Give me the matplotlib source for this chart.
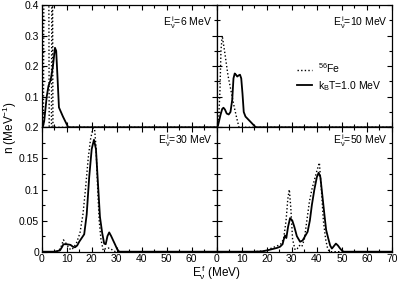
import matplotlib
matplotlib.use("Agg")
import matplotlib.pyplot as plt
from matplotlib.ticker import MultipleLocator

plt.rcParams['font.family'] = ['Liberation Sans', 'DejaVu Sans']
plt.rcParams['mathtext.fontset'] = 'custom'
plt.rcParams['mathtext.rm'] = 'Liberation Sans'
plt.rcParams['mathtext.it'] = 'Liberation Sans:italic'
plt.rcParams['mathtext.sf'] = 'Liberation Sans'

# ---- data (E in MeV, n in MeV^-1) ----
ev6_fe_E = [0, 0.7, 0.9, 2.8, 3.0, 3.9, 4.1, 4.3, 4.5, 70]
ev6_fe_n = [0, 0.0, 0.6, 0.6, 0.0, 0.0, 0.6, 0.6, 0.0, 0]
ev6_kt_E = [0, 0.4, 1.0, 2.0, 2.7, 3.6, 4.5, 5.3, 5.8, 6.4, 6.9, 8.5, 10.6, 70]
ev6_kt_n = [0, 0, 0.02, 0.1, 0.135, 0.155, 0.2, 0.26, 0.25, 0.15, 0.065, 0.035, 0, 0]

ev10_fe_E = [0, 0.8, 1.3, 1.7, 2.2, 3.3, 4.5, 5.7, 6.9, 8.0, 8.9, 70]
ev10_fe_n = [0, 0.03, 0.12, 0.25, 0.30, 0.24, 0.17, 0.12, 0.07, 0.03, 0, 0]
ev10_kt_E = [0, 0.5, 1.5, 2.2, 2.7, 3.3, 4.0, 4.8, 5.5, 6.2, 6.7, 7.2, 7.7, 8.2,
             8.8, 9.3, 9.8, 10.3, 10.8, 11.5, 13.5, 15.6, 70]
ev10_kt_n = [0, 0.005, 0.04, 0.06, 0.064, 0.058, 0.045, 0.042, 0.05, 0.09, 0.16,
             0.176, 0.172, 0.166, 0.17, 0.172, 0.16, 0.11, 0.05, 0.035, 0.018, 0, 0]

ev30_fe_E = [0, 6, 7.5, 8.7, 10, 11, 12, 13, 14, 15.3, 16.5, 17.5, 18.6, 19.5, 20.3,
             21, 21.7, 22.4, 23.0, 23.7, 24.6, 25.5, 26.5, 27.5, 28.5, 29.5, 70]
ev30_fe_n = [0, 0, 0.005, 0.019, 0.012, 0.005, 0.003, 0.008, 0.015, 0.03, 0.06, 0.1,
             0.15, 0.18, 0.195, 0.205, 0.17, 0.1, 0.05, 0.02, 0.002, 0.005, 0.006,
             0.005, 0.002, 0, 0]
ev30_kt_E = [0, 5, 7.3, 8.2, 8.7, 10, 11.5, 12.5, 13.3, 14.2, 15, 16, 17, 18, 19, 20,
             20.9, 21.7, 22.5, 23.3, 24.2, 25, 25.6, 26.3, 27, 27.8, 28.6, 29.3, 30.2, 31, 70]
ev30_kt_n = [0, 0, 0.002, 0.008, 0.012, 0.012, 0.011, 0.008, 0.007, 0.01, 0.016, 0.022,
             0.028, 0.06, 0.12, 0.165, 0.18, 0.165, 0.11, 0.056, 0.03, 0.013, 0.012,
             0.025, 0.031, 0.025, 0.018, 0.012, 0.004, 0, 0]

ev50_fe_E = [0, 15, 18, 20, 22, 24, 25.5, 26.7, 27.7, 28.4, 29, 29.6, 30.3, 31.3, 32.2,
             33, 34, 35, 36, 37, 38, 39, 40, 41, 41.8, 42.6, 43.5, 44.3, 45, 70]
ev50_fe_n = [0, 0, 0.001, 0.002, 0.006, 0.009, 0.012, 0.02, 0.05, 0.085, 0.1, 0.07,
             0.02, 0.003, 0.005, 0.01, 0.008, 0.02, 0.05, 0.08, 0.1, 0.115, 0.13,
             0.143, 0.1, 0.05, 0.02, 0.005, 0, 0]
ev50_kt_E = [0, 15, 18, 20, 22, 24, 25.3, 26.3, 26.8, 27.3, 27.8, 28.5, 29.3, 30.2, 31,
             32, 33.3, 34.3, 35.3, 36.3, 37.2, 38, 39, 40, 40.7, 41.4, 42.2, 43, 43.7,
             44.5, 45.3, 46, 46.8, 47.6, 48.4, 49.3, 50, 50.7, 70]
ev50_kt_n = [0, 0, 0.0005, 0.002, 0.004, 0.006, 0.008, 0.012, 0.02, 0.026, 0.022, 0.04,
             0.054, 0.05, 0.04, 0.025, 0.016, 0.018, 0.025, 0.032, 0.05, 0.075, 0.1,
             0.12, 0.127, 0.12, 0.09, 0.06, 0.035, 0.022, 0.01, 0.005, 0.009, 0.013,
             0.01, 0.005, 0.002, 0, 0]

panel_labels = ["6", "10", "30", "50"]
legend_labels = [r"$^{56}$Fe", r"k$_\mathregular{B}$T=1.0 MeV"]

W, H = 399, 284
fig = plt.figure(figsize=(W / 100, H / 100), dpi=100)

x0, xm, x1 = 41.7 / W, 216.7 / W, 392 / W
yt, ym, yb = 1 - 5 / H, 1 - 127.3 / H, 1 - 251.7 / H

axes = [
    fig.add_axes([x0, ym, xm - x0, yt - ym]),
    fig.add_axes([xm, ym, x1 - xm, yt - ym]),
    fig.add_axes([x0, yb, xm - x0, ym - yb]),
    fig.add_axes([xm, yb, x1 - xm, ym - yb]),
]

data = [
    (ev6_fe_E, ev6_fe_n, ev6_kt_E, ev6_kt_n),
    (ev10_fe_E, ev10_fe_n, ev10_kt_E, ev10_kt_n),
    (ev30_fe_E, ev30_fe_n, ev30_kt_E, ev30_kt_n),
    (ev50_fe_E, ev50_fe_n, ev50_kt_E, ev50_kt_n),
]

dotted = (0, (1.0, 1.6))
for i, ax in enumerate(axes):
    fe_E, fe_n, kt_E, kt_n = data[i]
    l1, = ax.plot(fe_E, fe_n, color='black', lw=1.0, ls=dotted)
    l2, = ax.plot(kt_E, kt_n, color='black', lw=1.3)
    ax.set_xlim(0, 70)
    top = i < 2
    ax.set_ylim(0, 0.4 if top else 0.2)
    ax.xaxis.set_major_locator(MultipleLocator(10))
    ax.xaxis.set_minor_locator(MultipleLocator(5))
    ax.yaxis.set_major_locator(MultipleLocator(0.1 if top else 0.05))
    ax.yaxis.set_minor_locator(MultipleLocator(0.05 if top else 0.025))
    ax.tick_params(which='both', direction='in', top=True, right=True,
                   labelsize=7.5, pad=2, width=0.8)
    ax.tick_params(which='major', length=3.5)
    ax.tick_params(which='minor', length=2)
    for s in ax.spines.values():
        s.set_linewidth(0.9)
    if top:
        ax.tick_params(labelbottom=False)
    if i % 2 == 1:
        ax.tick_params(labelleft=False)
    ax.text(0.975, 0.86 if top else 0.89,
            r"$\mathregular{E_{\nu}^{\,i}}$=" + panel_labels[i] + " MeV",
            transform=ax.transAxes, ha='right', va='center', fontsize=7.5)
    if i == 1:
        ax.legend([l1, l2], legend_labels, loc='upper left',
                  bbox_to_anchor=(0.43, 0.58), frameon=False, fontsize=7.5,
                  handlelength=1.4, handletextpad=0.6, labelspacing=0.35,
                  borderpad=0.0)

# top-left: hide the 0 label (bottom panel shows 0.2 at the junction)
axes[0].yaxis.set_major_formatter(plt.FuncFormatter(
    lambda v, p: "" if abs(v) < 1e-9 else f"{v:g}"))
axes[2].yaxis.set_major_formatter(plt.FuncFormatter(lambda v, p: f"{v:g}"))
axes[2].xaxis.set_major_formatter(plt.FuncFormatter(
    lambda v, p: "" if abs(v - 70) < 1e-9 else f"{v:g}"))

fig.text(0.025, ym, r"n (MeV$^{-1}$)", rotation=90, ha='center',
         va='center', fontsize=8.5)
fig.text(xm, 0.04, r"$\mathregular{E_{\nu}^{\,f}}$ (MeV)", ha='center',
         va='center', fontsize=8.5)

fig.savefig("out.png", dpi=100)
